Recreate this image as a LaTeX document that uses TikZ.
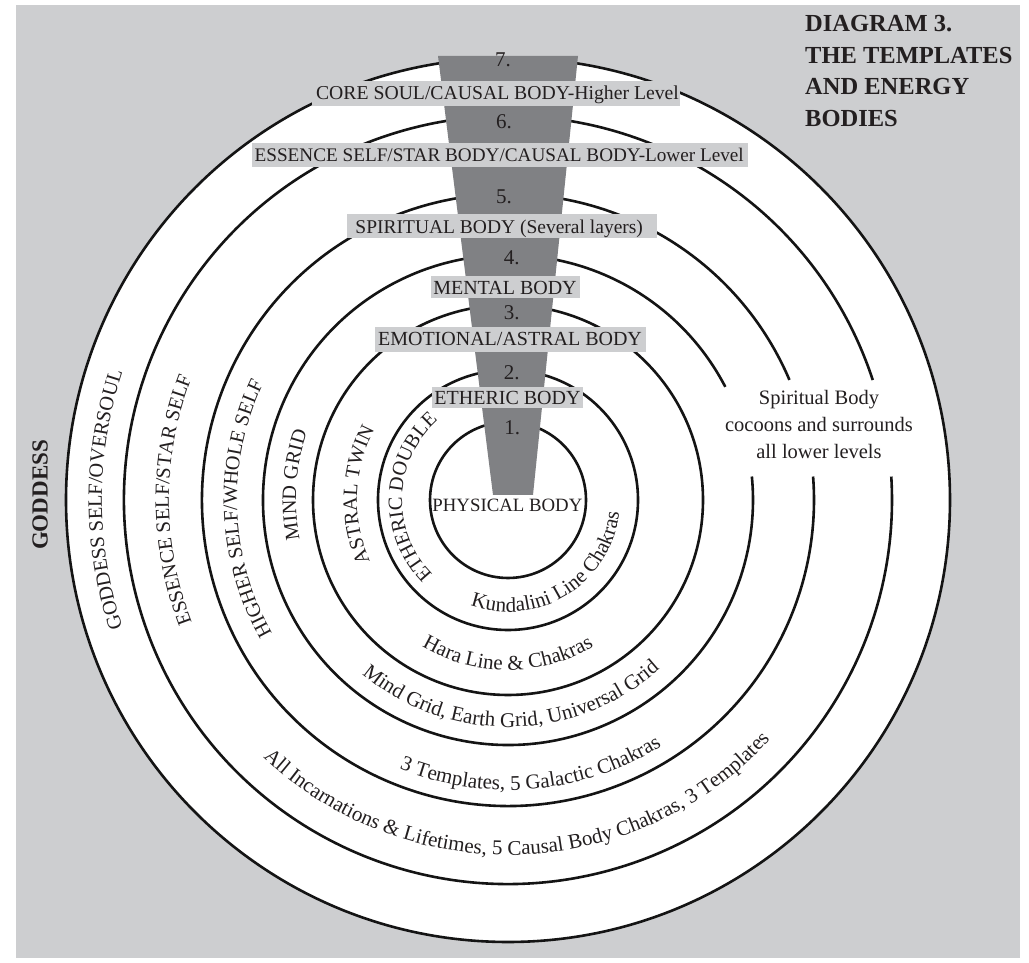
\documentclass[tikz,border=0pt]{standalone}
\usepackage{fontspec}
\setmainfont{Liberation Serif}
\usetikzlibrary{decorations.text}
\definecolor{bgc}{RGB}{205,206,208}
\definecolor{trapc}{RGB}{128,129,132}
\definecolor{txtc}{RGB}{35,31,32}
\newcommand\lblfont{\fontsize{20}{24}\selectfont}
\newcommand\leftfont{\fontsize{20.3}{24}\selectfont}
\newcommand\botfont{\fontsize{21}{24}\selectfont}
\newcommand\ttlfont{\fontsize{24.5}{31.5}\selectfont\bfseries}
\begin{document}
\begin{tikzpicture}[x=1pt,y=1pt,
  ring/.style={line width=2.6pt, draw=black!92},
  bar/.style={fill=bgc, draw=none},
  lbl/.style={anchor=base, text=txtc, font=\lblfont, inner sep=0pt},
  num/.style={anchor=base, text=txtc, font=\fontsize{21}{24}\selectfont, inner sep=0pt},
  ttl/.style={anchor=base west, text=txtc, font=\ttlfont, inner sep=0pt},
  lefttext/.style={decorate, decoration={text along path, text align=center, text={|\color{txtc}\leftfont|#1}}},
  bottext/.style={decorate, decoration={text along path, text align=center, text={|\color{txtc}\botfont|#1}}}
]
\useasboundingbox (0,0) rectangle (1029,963);
\fill[white] (0,0) rectangle (1029,963);
\fill[bgc] (16,5) rectangle (1020,958);
\coordinate (C) at (508,463);
% rings
\fill[white] (C) circle[radius=442];
\draw[ring] (C) circle[radius=442];
\draw[ring] (C) ++(18.2:384) arc[start angle=18.2, end angle=363.5, radius=384];
\draw[ring] (C) ++(23.1:306) arc[start angle=23.1, end angle=364.4, radius=306];
\draw[ring] (C) ++(27.5:245) arc[start angle=27.5, end angle=365.5, radius=245];
\draw[ring] (C) circle[radius=195];
\draw[ring] (C) circle[radius=130];
\draw[ring] (C) circle[radius=78];
% central wedge
\fill[trapc] (438,907) -- (578,907) -- (533,468) -- (493,468) -- cycle;
% bars
\fill[bar] (311.7,857) rectangle (680,882);
\fill[bar] (251.7,796.3) rectangle (748.3,820.3);
\fill[bar] (347.3,724.7) rectangle (656.7,749);
\fill[bar] (431,664.7) rectangle (580,687);
\fill[bar] (375,611.3) rectangle (646,635.7);
\fill[bar] (431.7,554.7) rectangle (582.7,576.3);
% numbers
\node[num] (n7) at (503,896.3) {7.};
\node[num] (n6) at (504,834.7) {6.};
\node[num] (n5) at (504,759) {5.};
\node[num] (n4) at (511.7,698) {4.};
\node[num] (n3) at (511.7,643) {3.};
\node[num] (n2) at (511.7,583) {2.};
\node[num] (n1) at (512.3,528) {1.};
% bar labels
\node[lbl, font=\fontsize{19.7}{24}\selectfont] (core) at (497.5,863) {CORE SOUL/CAUSAL BODY-Higher Level};
\node[lbl, font=\fontsize{19.2}{24}\selectfont] (essence) at (499.2,801.3) {ESSENCE SELF/STAR BODY/CAUSAL BODY-Lower Level};
\node[lbl, font=\fontsize{19.5}{24}\selectfont] (spiritual) at (499.2,729) {SPIRITUAL BODY (Several layers)};
\node[lbl] (mental) at (505,668) {MENTAL BODY};
\node[lbl] (emotional) at (510,617) {EMOTIONAL/ASTRAL BODY};
\node[lbl] (etheric) at (507.5,558) {ETHERIC BODY};
\node[lbl, font=\fontsize{18.8}{24}\selectfont] (physical) at (507.4,451.3) {PHYSICAL BODY};
% title
\node[ttl] (t1) at (805,931.3) {DIAGRAM 3.};
\node[ttl] (t2) at (805,899.7) {THE TEMPLATES};
\node[ttl] (t3) at (805,868) {AND ENERGY};
\node[ttl] (t4) at (805,836.3) {BODIES};
% goddess
\node[text=txtc, font=\fontsize{23}{26}\selectfont\bfseries, rotate=90, inner sep=0pt] (goddess) at (40,468) {GODDESS};
% spiritual body note
\node[lbl, font=\fontsize{20.5}{26}\selectfont] (sb1) at (819,558) {Spiritual Body};
\node[lbl, font=\fontsize{20.5}{26}\selectfont] (sb2) at (819,531.3) {cocoons and surrounds};
\node[lbl, font=\fontsize{20.5}{26}\selectfont] (sb3) at (819,504.7) {all lower levels};
% curved labels, left side (tops outward)
\path[lefttext={GODDESS SELF/OVERSOUL}] (C) ++(240:406) arc[start angle=240, end angle=120, radius=406];
\path[lefttext={ESSENCE SELF/STAR SELF}] (C) ++(240:339) arc[start angle=240, end angle=120, radius=339];
\path[lefttext={HIGHER SELF/WHOLE SELF}] (C) ++(242:271) arc[start angle=242, end angle=122, radius=271];
\path[lefttext={MIND GRID}] (C) ++(236:212) arc[start angle=236, end angle=116, radius=212];
\path[lefttext={ASTRAL TWIN}] (C) ++(248:151) arc[start angle=248, end angle=108, radius=151];
\path[lefttext={ETHERIC DOUBLE}] (C) ++(258:106) arc[start angle=258, end angle=98, radius=106];
% curved labels, bottom (tops inward)
\path[bottext={Kundalini Line Chakras}] (C) ++(222:112) arc[start angle=222, end angle=382, radius=112];
\path[bottext={Hara Line {\&} Chakras}] (C) ++(200:170) arc[start angle=200, end angle=340, radius=170];
\path[bottext={Mind Grid, Earth Grid, Universal Grid}] (C) ++(201:227) arc[start angle=201, end angle=341, radius=227];
\path[bottext={3 Templates, 5 Galactic Chakras}] (C) ++(205:290) arc[start angle=205, end angle=345, radius=290];
\path[bottext={All Incarnations {\&} Lifetimes, 5 Causal Body Chakras, 3 Templates}] (C) ++(202:355) arc[start angle=202, end angle=342, radius=355];
\end{tikzpicture}
\end{document}
